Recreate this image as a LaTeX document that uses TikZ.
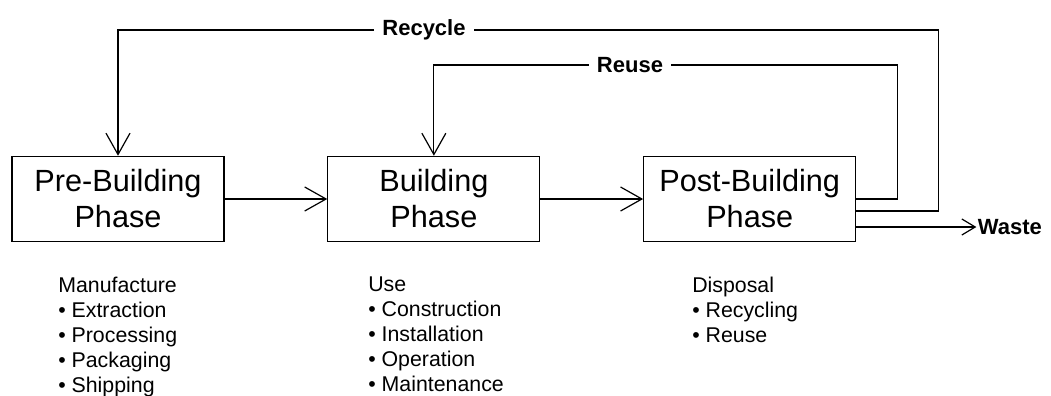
\documentclass[tikz,border=0pt]{standalone}
\usepackage{fontspec}
\setmainfont{Liberation Sans}
\usetikzlibrary{arrows.meta, positioning}

\begin{document}
\begin{tikzpicture}[x=0.75pt, y=-0.75pt, >={Straight Barb[length=16pt,width=18pt]},
    phase/.style={draw, rectangle, line width=0.9pt, minimum width=159pt, minimum height=64pt, align=center, inner sep=0pt, font=\fontsize{23}{27}\selectfont},
    loop/.style={font=\bfseries\fontsize{16.5}{19}\selectfont, fill=white, inner xsep=6pt, inner ysep=1pt},
    flow/.style={line width=0.9pt},
    list/.style={align=left, anchor=north west, inner sep=0pt, font=\fontsize{16}{18.75}\selectfont}]
      \useasboundingbox (0,0) rectangle (1051,396);

      % the three phases
      \node [phase] (pre) at (118,199) {Pre-Building\\Phase};
      \node [phase, right=77pt of pre] (bld) {Building\\Phase};
      \node [phase, right=77pt of bld] (post) {Post-Building\\Phase};

      % loop labels
      \node [loop] (recycle) at (424,30) {Recycle};
      \node [loop] (reuse) at (630,65) {Reuse};

      \coordinate (wasteout) at ([yshift=-21pt]post.east);
      \node [loop, fill=none, anchor=west, inner xsep=1pt] (waste) at ([xshift=90pt]wasteout) {Waste};

      \draw [->, flow] (pre) -- (bld);
      \draw [->, flow] (bld) -- (post);
      \draw [flow] (post.east) -- ++(41,0) |- (reuse.east);
      \draw [->, flow] (reuse.west) -| (bld.north);
      \draw [flow] ([yshift=-9pt]post.east) -- ++(82,0) |- (recycle.east);
      \draw [->, flow] (recycle.west) -| (pre.north);
      \draw [->, flow, >={Straight Barb[length=10pt,width=12pt]}] (wasteout) -- (waste.west);

      % what each phase covers
      \node [list] (mfg) at (58,277) {Manufacture\\\textbullet\ Extraction\\\textbullet\ Processing\\\textbullet\ Packaging\\\textbullet\ Shipping};
      \node [list] (use) at (368,277) {Use\\\textbullet\ Construction\\\textbullet\ Installation\\\textbullet\ Operation\\\textbullet\ Maintenance};
      \node [list] (disp) at (692,277) {Disposal\\\textbullet\ Recycling\\\textbullet\ Reuse};
    \end{tikzpicture}
\end{document}
